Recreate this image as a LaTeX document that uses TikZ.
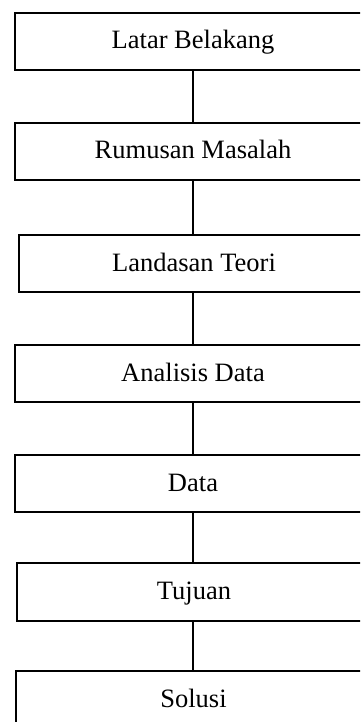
\documentclass[tikz,border=0pt]{standalone}
\usepackage{fontspec}
\setmainfont{Liberation Serif}
\begin{document}
\begin{tikzpicture}[x=1pt,y=-1pt,
  box/.style={draw, line width=2pt, minimum height=57pt, inner sep=0pt,
    text height=18.5pt, text depth=3.5pt,
    font=\fontsize{26.5}{30}\selectfont, anchor=north west},
  conn/.style={line width=1.2pt}]
\useasboundingbox (0,0) rectangle (360,722);
\clip (0,0) rectangle (360,722);
\node[box, minimum width=356pt] (b1) at (14,12) {Latar Belakang};
\node[box, minimum width=356pt] (b2) at (14,122) {Rumusan Masalah};
\node[box, minimum width=350pt] (b3) at (18,234) {Landasan Teori};
\node[box, minimum width=356pt] (b4) at (14,344) {Analisis Data};
\node[box, minimum width=356pt] (b5) at (14,454) {Data};
\node[box, minimum width=354pt, minimum height=58pt] (b6) at (16,562) {Tujuan};
\node[box, minimum width=355pt] (b7) at (15,670) {Solusi};
\draw[conn] (b1.south -| 193,0) -- (b2.north -| 193,0);
\draw[conn] (b2.south -| 193,0) -- (b3.north -| 193,0);
\draw[conn] (b3.south -| 193,0) -- (b4.north -| 193,0);
\draw[conn] (b4.south -| 193,0) -- (b5.north -| 193,0);
\draw[conn] (b5.south -| 193,0) -- (b6.north -| 193,0);
\draw[conn] (b6.south -| 193,0) -- (b7.north -| 193,0);
\end{tikzpicture}
\end{document}
